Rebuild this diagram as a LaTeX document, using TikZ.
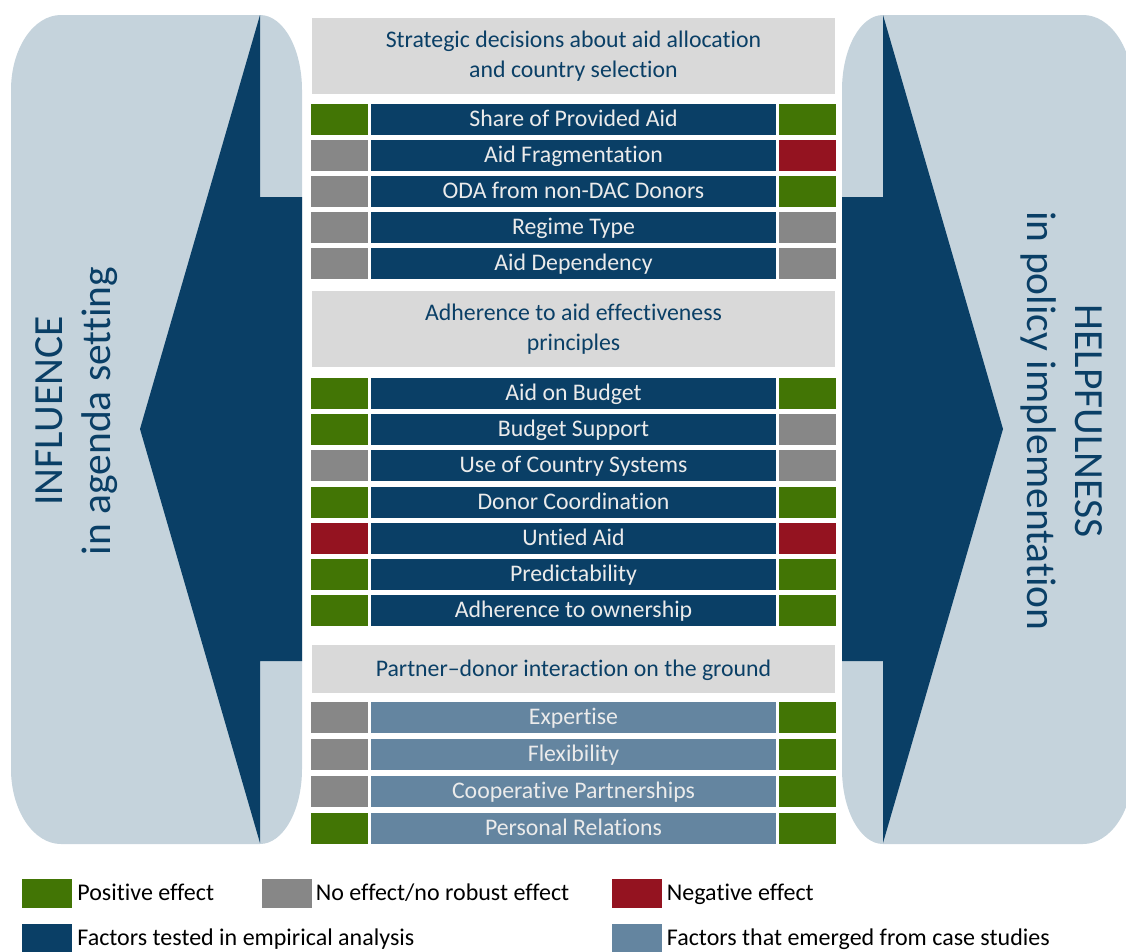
\documentclass[tikz,border=0pt]{standalone}
\usepackage{fontspec}
\setmainfont[Ligatures={TeX,NoCommon}]{Carlito}
\usetikzlibrary{positioning}
\definecolor{panel}{HTML}{C5D3DC}
\definecolor{navy}{HTML}{0A3F66}
\definecolor{steel}{HTML}{6485A0}
\definecolor{effpos}{HTML}{427505}
\definecolor{effnone}{HTML}{878787}
\definecolor{effneg}{HTML}{941320}
\definecolor{headgrey}{HTML}{D9D9D9}
\begin{document}
\begin{tikzpicture}[x=1pt,y=-1pt,
  factor/.style={fill=navy,text=white!92!black,minimum width=405pt,minimum height=31pt,
    inner sep=0pt,text height=17pt,text depth=3pt,font=\fontsize{23.8}{27}\selectfont},
  effect/.style={minimum width=57pt,minimum height=31pt,inner sep=0pt},
  header/.style={fill=headgrey,text=navy,minimum width=523pt,inner sep=0pt,align=center,
    font=\fontsize{23.8}{30}\selectfont},
  side/.style={text=navy,align=center,font=\fontsize{41.5}{48}\selectfont},
  key/.style={minimum width=50pt,minimum height=29pt,inner sep=0pt},
  keytext/.style={inner sep=0pt,text height=17pt,text depth=3pt,font=\fontsize{24}{28}\selectfont}]
  \clip (0,0) rectangle (1126,951);

  % side panels
  \fill[panel] (11,90) arc[start angle=180,end angle=270,x radius=50,y radius=75] -- (260,15)
    arc[start angle=270,end angle=360,x radius=42,y radius=75] -- (302,769)
    arc[start angle=0,end angle=90,x radius=42,y radius=75] -- (61,844)
    arc[start angle=90,end angle=180,x radius=50,y radius=75] -- cycle;
  \fill[panel] (842,90) arc[start angle=180,end angle=270,x radius=41,y radius=75] -- (1083,15)
    arc[start angle=270,end angle=360,x radius=50,y radius=75] -- (1133,769)
    arc[start angle=0,end angle=90,x radius=50,y radius=75] -- (883,844)
    arc[start angle=90,end angle=180,x radius=41,y radius=75] -- cycle;
  \fill[navy] (302,197) -- (260,197) -- (260,15) -- (140,429) -- (260,843) -- (260,661) -- (302,661) -- cycle;
  \fill[navy] (842,197) -- (883,197) -- (883,15) -- (1003,429) -- (883,843) -- (883,661) -- (842,661) -- cycle;

  \node[side,rotate=90] (infl) at (77,411) {INFLUENCE\\in agenda setting};
  \node[side,rotate=-90] (help) at (1062,421) {HELPFULNESS\\in policy implementation};

  % headers
  \node[header,minimum height=76pt] (h1) at (573.5,56) {Strategic decisions about aid allocation\\and country selection};
  \node[header,minimum height=76pt] (h2) at (573.5,329) {Adherence to aid effectiveness\\principles};
  \node[header,minimum height=48pt,text height=17pt,text depth=3pt] (h3) at (573.5,669) {Partner--donor interaction on the ground};

  % factors
  \foreach \t/\a/\b [count=\i] in {Share of Provided Aid/effpos/effpos,
      Aid Fragmentation/effnone/effneg, ODA from non-DAC Donors/effnone/effpos,
      Regime Type/effnone/effnone, Aid Dependency/effnone/effnone}{
    \node[factor] (s\i) at (573.5,{119.5+36*(\i-1)}) {\t};
    \node[effect,fill=\a,left=3pt of s\i] (sl\i) {};
    \node[effect,fill=\b,right=3pt of s\i] (sr\i) {};
  }
  \foreach \t/\a/\b [count=\i] in {Aid on Budget/effpos/effpos, Budget Support/effpos/effnone,
      Use of Country Systems/effnone/effnone, Donor Coordination/effpos/effpos,
      Untied Aid/effneg/effneg, Predictability/effpos/effpos,
      Adherence to ownership/effpos/effpos}{
    \node[factor] (a\i) at (573.5,{393.5+36.2*(\i-1)}) {\t};
    \node[effect,fill=\a,left=3pt of a\i] (al\i) {};
    \node[effect,fill=\b,right=3pt of a\i] (ar\i) {};
  }
  \foreach \t/\a/\b [count=\i] in {Expertise/effnone/effpos, Flexibility/effnone/effpos,
      Cooperative Partnerships/effnone/effpos, Personal Relations/effpos/effpos}{
    \node[factor,fill=steel] (p\i) at (573.5,{717.5+37*(\i-1)}) {\t};
    \node[effect,fill=\a,left=3pt of p\i] (pl\i) {};
    \node[effect,fill=\b,right=3pt of p\i] (pr\i) {};
  }

  % legend
  \node[key,fill=effpos] (k1) at (47,893.5) {};
  \node[keytext,right=5pt of k1] {Positive effect};
  \node[key,fill=effnone] (k2) at (286.5,893.5) {};
  \node[keytext,right=4pt of k2] {No effect/no robust effect};
  \node[key,fill=effneg] (k3) at (636.5,893.5) {};
  \node[keytext,right=5pt of k3] {Negative effect};
  \node[key,fill=navy] (k4) at (47,938.5) {};
  \node[keytext,right=5pt of k4] {Factors tested in empirical analysis};
  \node[key,fill=steel] (k5) at (636.5,938.5) {};
  \node[keytext,right=5pt of k5] {Factors that emerged from case studies};
\end{tikzpicture}
\end{document}
